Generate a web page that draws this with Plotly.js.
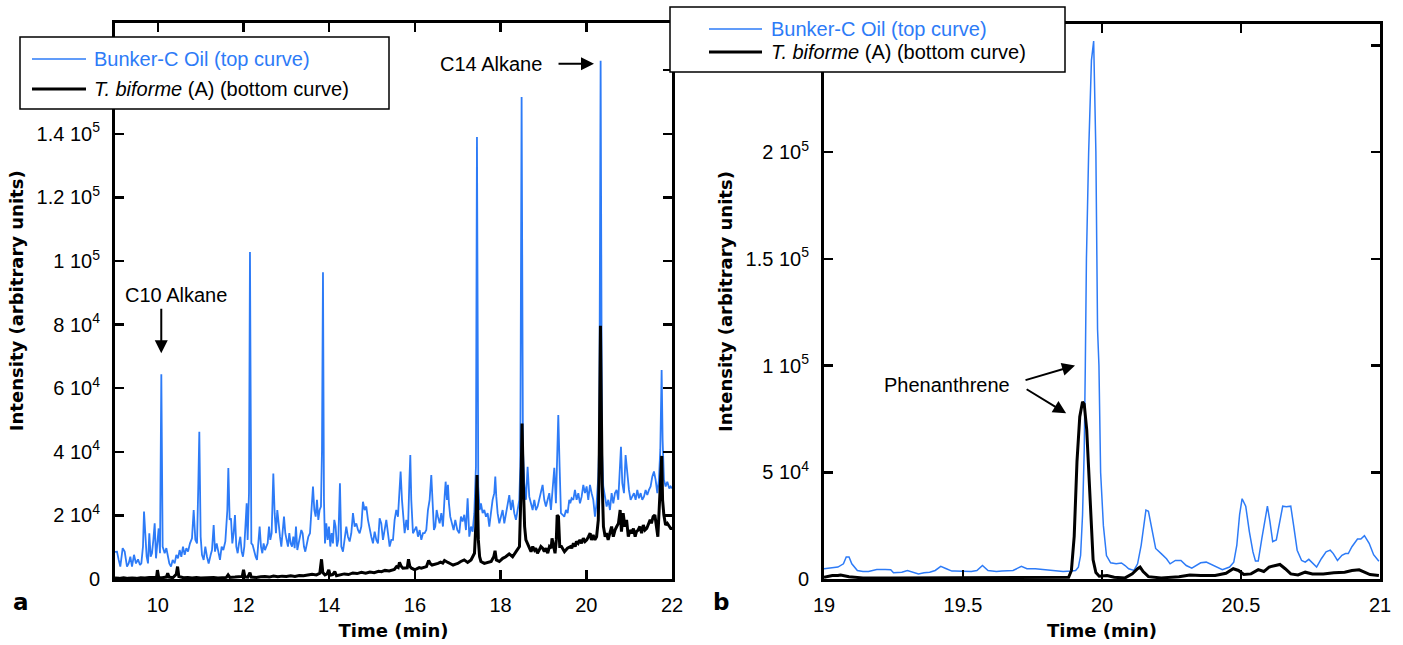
<!DOCTYPE html>
<html>
<head>
<meta charset="utf-8">
<script src="https://cdn.plot.ly/plotly-3.0.1.min.js"></script>
<style>
  html, body { margin: 0; padding: 0; background: #fff; }
  #chart { width: 1403px; height: 645px; }
</style>
</head>
<body>
<div id="chart"></div>
<script>
// ---------------- DATA (intensities in thousands of arbitrary units) ----------------
// Panel a : 9 - 22 min
const bunkerTimeA = [9.00,9.047,9.086,9.124,9.179,9.226,9.280,9.319,9.358,9.397,9.443,9.490,9.537,9.583,9.615,9.653,9.677,9.708,9.739,9.770,9.801,9.832,9.863,9.895,9.926,9.957,9.988,10.019,10.050,10.081,10.112,10.159,10.198,10.237,10.268,10.307,10.346,10.393,10.431,10.470,10.509,10.548,10.587,10.626,10.665,10.704,10.750,10.797,10.836,10.875,10.914,10.945,10.968,10.999,11.030,11.069,11.108,11.147,11.186,11.233,11.264,11.303,11.334,11.373,11.411,11.450,11.489,11.528,11.575,11.622,11.645,11.676,
11.707,11.738,11.769,11.800,11.831,11.863,11.894,11.925,11.956,11.987,12.018,12.049,12.073,12.096,12.127,12.150,12.182,12.213,12.252,12.283,12.314,12.345,12.376,12.407,12.438,12.469,12.500,12.531,12.563,12.594,12.625,12.656,12.695,12.726,12.757,12.788,12.819,12.851,12.882,12.913,12.944,12.975,13.006,13.037,13.068,13.099,13.131,13.162,13.193,13.224,13.255,13.286,13.317,13.348,13.379,13.410,13.441,13.473,13.512,13.551,13.590,13.621,13.652,13.683,13.714,13.745,13.776,13.807,13.831,13.854,13.877,13.901,13.932,13.963,13.994,14.025,14.056,14.087,14.118,14.149,14.180,14.212,14.250,
14.282,14.321,14.360,14.398,14.437,14.476,14.515,14.554,14.593,14.632,14.671,14.710,14.749,14.787,14.826,14.865,14.904,14.943,14.982,15.021,15.060,15.099,15.137,15.176,15.215,15.254,15.293,15.332,15.371,15.410,15.449,15.488,15.526,15.565,15.604,15.643,15.666,15.698,15.729,15.760,15.799,15.838,15.869,15.892,15.915,15.954,15.993,16.032,16.071,16.110,16.149,16.188,16.226,16.265,16.304,16.343,16.382,16.413,16.444,16.475,16.507,16.538,16.577,16.616,16.654,16.693,16.717,16.748,16.771,16.794,16.825,16.864,16.903,16.942,16.989,
17.035,17.074,17.113,17.152,17.191,17.230,17.269,17.308,17.347,17.386,17.424,17.448,17.479,17.510,17.541,17.580,17.619,17.658,17.697,17.736,17.774,17.813,17.852,17.876,17.899,17.930,17.969,18.008,18.047,18.086,18.124,18.163,18.202,18.241,18.280,18.319,18.358,18.397,18.436,18.459,18.490,18.521,18.552,18.591,18.630,18.669,18.708,18.747,18.786,18.825,18.864,18.903,18.941,18.980,19.019,19.058,19.097,19.136,19.175,19.214,19.253,19.291,19.330,19.346,19.377,19.408,19.447,19.486,19.525,19.564,19.602,19.626,
19.657,19.696,19.735,19.774,19.813,19.852,19.891,19.930,19.968,20.007,20.046,20.085,20.124,20.163,20.202,20.241,20.280,20.303,20.334,20.365,20.396,20.435,20.474,20.513,20.552,20.591,20.630,20.669,20.707,20.746,20.785,20.809,20.840,20.879,20.917,20.956,20.995,21.034,21.073,21.112,21.151,21.190,21.229,21.268,21.306,21.345,21.384,21.423,21.462,21.501,21.540,21.579,21.618,21.657,21.695,21.727,21.758,21.781,21.812,21.851,21.890,21.937,21.968,22.00];
const bunkerIntA = [8.5,8.6,6.0,3.9,9.7,8.6,3.9,4.9,7.0,3.9,7.6,4.9,6.2,4.4,4.9,10.2,21.2,13.3,7.0,4.9,14.4,7.0,8.1,12.3,17.5,6.5,11.2,15.9,8.1,64.4,10.2,8.1,9.7,7.0,4.9,3.9,6.0,4.9,7.6,6.5,9.1,7.0,10.2,7.6,9.7,8.6,11.2,12.8,21.7,12.3,11.2,30.0,46.3,13.3,7.6,6.0,10.2,7.0,4.9,7.6,9.1,17.0,8.6,11.2,8.1,6.0,10.2,9.1,11.8,21.7,34.9,18.6,
19.1,11.2,14.4,20.1,10.2,8.1,11.2,13.3,8.6,7.0,10.2,17.5,23.8,12.3,27.0,102.8,11.2,10.7,8.1,7.0,6.0,10.2,16.5,10.2,8.1,11.2,9.1,10.2,11.2,16.5,12.3,14.4,33.2,20.7,14.4,21.7,16.5,13.3,10.2,16.5,19.6,14.4,12.3,10.2,14.4,11.2,10.2,13.3,9.7,16.5,9.1,11.2,13.3,15.4,14.4,10.2,8.6,11.2,13.3,14.4,22.8,29.1,21.7,19.6,24.9,18.6,21.7,22.8,40.6,96.5,24.9,11.2,17.5,12.3,16.5,10.2,14.4,11.2,18.6,16.5,10.2,12.3,30.1,
10.2,8.6,12.3,16.5,13.3,11.8,14.4,20.7,16.5,17.5,15.4,14.4,16.5,24.3,21.7,22.8,18.6,15.4,13.3,11.2,14.9,12.3,11.2,19.1,17.5,12.3,15.4,18.6,14.4,10.2,12.3,12.3,18.6,21.7,19.6,27.0,33.8,24.9,18.6,14.4,18.6,15.4,30.1,39.0,24.9,14.4,15.4,16.5,13.3,15.4,12.3,14.4,14.4,15.4,21.7,24.9,32.7,24.9,15.4,16.5,21.7,19.6,17.5,20.7,16.5,25.9,30.6,24.9,29.6,23.8,19.6,17.5,15.4,18.6,15.4,
14.4,19.6,18.1,20.2,15.4,25.4,13.3,16.5,14.9,20.7,35.3,139.0,29.1,21.7,23.8,20.7,21.7,19.6,20.7,16.5,20.7,24.9,27.0,32.2,25.9,20.7,17.5,19.6,21.7,17.5,20.7,23.8,26.4,21.7,24.9,20.7,18.6,21.7,24.9,35.3,151.6,40.6,30.1,24.9,35.3,25.9,23.8,21.7,24.9,21.7,22.8,24.9,27.0,29.6,24.9,22.8,24.9,27.0,21.7,30.1,35.0,23.8,40.6,51.6,35.3,20.7,20.2,19.6,21.7,20.7,24.9,23.8,
25.4,24.9,28.0,24.9,27.0,23.8,25.9,29.6,27.0,29.1,24.9,29.6,27.0,24.9,19.6,23.8,32.2,43.7,163.0,40.6,29.1,25.9,22.8,24.9,21.7,27.0,23.8,27.0,28.0,24.9,36.4,41.6,30.1,27.0,39.0,33.2,28.0,24.9,25.9,27.0,24.9,28.0,25.4,27.0,24.9,25.9,28.0,26.4,28.0,29.1,32.2,33.8,31.2,27.0,31.2,40.6,65.7,43.7,31.2,29.1,30.6,28.5,29.1,28.5];

const biformeTimeA = [9.00,9.10,9.20,9.30,9.40,9.50,9.60,9.70,9.80,9.90,9.97,9.99,10.02,10.10,10.20,10.23,10.26,10.35,10.43,10.46,10.49,10.60,10.70,10.80,10.90,11.00,11.10,11.20,11.30,11.40,11.50,11.60,11.64,11.68,11.80,11.90,11.97,12.00,12.03,12.10,12.15,12.18,12.30,12.40,12.50,12.60,12.70,12.80,12.90,13.00,13.10,13.20,13.30,13.40,13.50,13.60,13.70,13.78,13.82,13.85,13.90,13.95,13.99,14.02,14.08,14.13,14.17,14.25,14.35,14.45,14.55,14.65,14.75,14.85,14.95,15.05,15.15,15.22,15.30,15.40,15.45,15.52,15.57,15.61,15.64,15.68,15.72,15.78,15.82,15.85,15.88,15.92,15.98,16.03,16.10,16.15,16.22,16.27,16.32,16.36,16.40,16.47,16.54,16.60,16.65,16.69,16.73,16.77,16.83,16.89,16.95,
17.00,17.07,17.15,17.23,17.31,17.39,17.42,17.45,17.48,17.51,17.54,17.62,17.70,17.78,17.84,17.87,17.90,17.97,18.05,18.12,18.20,18.28,18.36,18.44,18.47,18.50,18.53,18.56,18.59,18.63,18.67,18.71,18.75,18.79,18.82,18.86,18.90,18.94,18.98,19.02,19.06,19.10,19.14,19.18,19.20,19.23,19.27,19.30,19.32,19.35,19.38,19.42,19.49,19.56,19.63,
19.66,19.70,19.74,19.77,19.81,19.85,19.89,19.93,19.97,20.01,20.05,20.09,20.12,20.16,20.20,20.24,20.28,20.30,20.33,20.37,20.40,20.44,20.47,20.51,20.55,20.59,20.63,20.67,20.71,20.75,20.79,20.82,20.86,20.90,20.94,20.98,21.02,21.06,21.10,21.14,21.17,21.21,21.25,21.29,21.33,21.37,21.41,21.45,21.49,21.52,21.56,21.60,21.64,21.67,21.70,21.73,21.76,21.78,21.81,21.85,21.89,21.94,21.97,22.00];
const biformeIntA = [0.3,0.2,0.4,0.2,0.3,0.2,0.4,0.3,0.5,0.4,0.5,2.8,0.5,0.4,0.6,1.8,0.6,0.4,1.5,3.9,0.8,0.4,0.5,0.3,0.5,0.3,0.4,0.3,0.5,0.3,0.4,0.5,1.3,0.5,0.6,0.7,0.8,2.9,0.7,0.6,2.0,0.6,0.5,0.7,0.8,0.6,0.9,0.7,0.9,0.8,1.0,0.8,1.1,1.0,1.3,1.5,1.3,1.8,6.2,2.0,1.3,1.6,2.9,1.2,1.4,2.3,1.0,1.3,1.6,1.4,1.9,1.7,2.1,1.8,2.2,2.0,2.4,2.3,2.7,2.5,2.8,3.0,3.9,3.6,5.2,4.0,3.4,3.6,3.5,6.2,4.0,3.4,3.0,3.1,3.6,3.4,3.7,3.9,5.8,4.8,4.4,4.6,4.9,5.3,5.0,5.8,5.4,5.2,4.8,4.4,4.7,
4.9,5.5,6.0,5.2,6.0,8.1,16.5,32.7,12.3,7.0,5.5,4.9,5.2,5.5,7.0,8.9,6.0,5.5,6.5,7.0,7.9,7.0,8.6,10.2,24.9,48.9,30.1,16.5,12.3,11.2,9.7,8.6,10.2,9.1,9.7,8.1,9.1,10.2,9.7,8.6,9.7,8.1,10.2,9.7,12.8,10.2,8.1,12.3,20.1,19.6,10.2,10.2,8.6,9.7,10.2,
9.7,11.2,10.2,11.8,11.2,12.3,11.2,12.8,11.8,12.3,13.3,14.4,12.3,13.8,12.3,13.3,18.6,35.3,79.6,30.1,16.5,13.3,14.4,12.3,14.4,16.5,13.3,15.4,16.5,17.5,21.7,14.9,20.7,16.5,18.6,13.3,15.4,14.4,15.9,13.3,14.9,15.4,16.5,14.4,17.0,15.4,15.9,17.5,18.6,17.5,19.6,20.1,16.5,13.3,21.7,30.1,38.7,24.9,20.1,17.0,17.5,16.5,15.9,15.9];

// Panel b : 19 - 21 min
const bunkerTimeB = [19.00,19.02,19.05,19.07,19.08,19.09,19.10,19.12,19.14,19.16,19.19,19.22,19.24,19.25,19.28,19.30,19.32,19.34,19.36,19.38,19.40,19.42,19.44,19.46,19.47,19.50,19.53,19.55,19.57,19.59,19.62,19.64,19.68,19.71,19.73,19.76,19.79,19.81,19.84,19.86,19.89,19.905,19.915,19.923,19.930,19.936,19.940,19.944,19.952,19.962,19.970,19.978,19.984,19.989,19.995,20.005,20.016,20.031,20.051,20.070,20.083,20.096,20.115,20.128,20.141,20.152,20.158,20.167,20.180,20.193,20.213,20.232,20.245,20.264,20.284,20.303,20.323,20.342,20.355,20.375,20.394,20.413,20.433,20.459,20.474,20.485,20.495,20.504,20.517,20.530,20.543,20.552,20.562,20.575,20.588,20.595,20.604,20.614,20.627,20.640,20.650,20.663,20.679,20.689,20.702,20.718,20.731,20.744,20.759,20.772,20.789,20.806,20.821,20.832,20.847,20.863,20.876,20.886,20.899,20.919,20.931,20.944,20.961,20.977,20.996];
const bunkerIntB = [4.8,5.1,5.6,7.1,10.3,10.3,7.1,4.0,3.5,3.5,4.4,4.4,4.3,2.9,3.2,4.0,3.2,2.4,2.9,3.2,4.0,5.9,4.8,3.7,3.8,3.7,3.5,4.0,6.3,4.0,3.5,3.8,4.0,5.9,4.8,4.8,4.4,4.0,3.5,3.5,3.7,4.0,5.5,11,30,60,100,150,200,243,252,200,117,100,50,25,11,7.6,7.1,7.5,6.3,4.8,4.0,7.1,15.9,25.4,32.3,31.7,22.2,14.3,11.9,9.5,7.1,8.7,8.7,6.3,5.1,6.7,7.6,7.9,6.7,5.6,4.4,5.6,7.9,15.9,30.2,37.6,34.1,22.2,12.7,8.4,8.4,19.0,28.6,34.1,27.0,17.5,18.3,27.0,34.1,33.8,34.1,25.4,13.5,8.7,7.9,9.2,7.1,5.6,9.5,12.7,13.5,11.9,8.7,11.1,11.9,11.9,15.1,18.7,18.7,20.3,16.7,11.4,8.3];

const biformeTimeB = [19.00,19.03,19.05,19.06,19.09,19.14,19.24,19.37,19.50,19.63,19.76,19.86,19.88,19.89,19.90,19.91,19.92,19.93,19.936,19.945,19.952,19.960,19.968,19.978,19.99,20.018,20.044,20.083,20.109,20.128,20.137,20.148,20.167,20.213,20.277,20.316,20.355,20.407,20.446,20.472,20.491,20.510,20.536,20.562,20.582,20.601,20.627,20.640,20.659,20.679,20.705,20.731,20.757,20.796,20.834,20.873,20.899,20.925,20.944,20.964,20.996];
const biformeIntB = [0.8,1.6,1.6,1.9,1.1,0.5,0.5,0.5,0.8,0.5,0.5,0.8,0.8,4,20,55,76,83,82,70,50,25,9,3,1.3,1.6,0.8,0.5,2.4,4.8,5.6,3.5,1.1,0.5,1.1,1.9,1.6,1.6,2.7,4.8,4.0,2.1,2.4,4.4,3.5,5.6,6.3,6.8,4.8,2.4,1.9,3.2,2.4,2.4,2.9,3.2,4.0,4.3,3.2,2.1,1.6];

// Tick labels (the 1.6e5 and 2.5e5 labels are hidden behind the legends in the original)
const xTicksA = [10, 12, 14, 16, 18, 20, 22];
const yTicksA = [0, 20, 40, 60, 80, 100, 120, 140, 160];
const yLabelsA = ['0', '2 10<sup>4</sup>', '4 10<sup>4</sup>', '6 10<sup>4</sup>', '8 10<sup>4</sup>', '1 10<sup>5</sup>', '1.2 10<sup>5</sup>', '1.4 10<sup>5</sup>', ''];
const xTicksB = [19, 19.5, 20, 20.5, 21];
const xLabelsB = ['19', '19.5', '20', '20.5', '21'];
const yTicksB = [0, 50, 100, 150, 200, 250];
const yLabelsB = ['0', '5 10<sup>4</sup>', '1 10<sup>5</sup>', '1.5 10<sup>5</sup>', '2 10<sup>5</sup>', ''];

const seriesNames = ['Bunker-C Oil (top curve)', '<i>T. biforme</i> (A) (bottom curve)'];
const xTitle = 'Time (min)';
const yTitle = 'Intensity (arbitrary units)';

// ---------------- LAYOUT ----------------
const W = 1403, H = 645;
const px = v => v / W;
const py = v => 1 - v / H;
const BLUE = '#2d7bf7';
const TICKFONT = {family: 'Liberation Sans, Arial, sans-serif', size: 20, color: '#000'};
const TITLEFONT = {family: 'DejaVu Sans, sans-serif', size: 18, color: '#000'};

function xAxis(domain, range, tickvals, ticktext, anchor) {
  return {
    domain: domain, range: range, anchor: anchor,
    tickmode: 'array', tickvals: tickvals, ticktext: ticktext,
    ticks: 'inside', ticklen: 9, tickwidth: 2.5, tickcolor: '#000',
    showline: true, linewidth: 3, linecolor: '#000', mirror: 'ticks',
    showgrid: false, zeroline: false, tickfont: TICKFONT,
    ticklabelstandoff: 6,
    title: {text: '<b>' + xTitle + '</b>', font: TITLEFONT, standoff: 10}
  };
}
function yAxis(domain, range, tickvals, ticktext, anchor) {
  return {
    domain: domain, range: range, anchor: anchor,
    tickmode: 'array', tickvals: tickvals, ticktext: ticktext,
    ticks: 'inside', ticklen: 9, tickwidth: 2.5, tickcolor: '#000',
    showline: true, linewidth: 3, linecolor: '#000', mirror: 'ticks',
    showgrid: false, zeroline: false, tickfont: TICKFONT,
    ticklabelstandoff: 8,
    title: {text: '<b>' + yTitle + '</b>', font: TITLEFONT, standoff: 9}
  };
}

const traces = [
  {x: bunkerTimeA, y: bunkerIntA, xaxis: 'x', yaxis: 'y', mode: 'lines', name: seriesNames[0], line: {color: BLUE, width: 1.8}, showlegend: false},
  {x: biformeTimeA, y: biformeIntA, xaxis: 'x', yaxis: 'y', mode: 'lines', name: seriesNames[1], line: {color: '#000', width: 3}, showlegend: false},
  {x: bunkerTimeB, y: bunkerIntB, xaxis: 'x2', yaxis: 'y2', mode: 'lines', name: seriesNames[0], line: {color: BLUE, width: 1.5}, showlegend: false},
  {x: biformeTimeB, y: biformeIntB, xaxis: 'x2', yaxis: 'y2', mode: 'lines', name: seriesNames[1], line: {color: '#000', width: 3}, showlegend: false}
];

const legendBoxes = [
  {x0: 20, x1: 389, y0: 37, y1: 109, l0: 32, l1: 86, ly: [59, 89], tx: 92},
  {x0: 670, x1: 1065, y0: 7, y1: 72, l0: 709, l1: 762, ly: [29, 52], tx: 769}
];
const shapes = [];
const annotations = [];
legendBoxes.forEach(b => {
  shapes.push({type: 'rect', xref: 'paper', yref: 'paper', x0: px(b.x0), x1: px(b.x1), y0: py(b.y1), y1: py(b.y0),
    line: {color: '#000', width: 1.5}, fillcolor: '#fff', layer: 'above'});
  shapes.push({type: 'line', xref: 'paper', yref: 'paper', x0: px(b.l0), x1: px(b.l1), y0: py(b.ly[0]), y1: py(b.ly[0]),
    line: {color: BLUE, width: 1.5}, layer: 'above'});
  shapes.push({type: 'line', xref: 'paper', yref: 'paper', x0: px(b.l0), x1: px(b.l1), y0: py(b.ly[1]), y1: py(b.ly[1]),
    line: {color: '#000', width: 3}, layer: 'above'});
  annotations.push({xref: 'paper', yref: 'paper', x: px(b.tx), y: py(b.ly[0]), xanchor: 'left', yanchor: 'middle',
    text: seriesNames[0], showarrow: false, font: {family: TICKFONT.family, size: 20, color: BLUE}});
  annotations.push({xref: 'paper', yref: 'paper', x: px(b.tx), y: py(b.ly[1]), xanchor: 'left', yanchor: 'middle',
    text: seriesNames[1], showarrow: false, font: {family: TICKFONT.family, size: 20, color: '#000'}});
});

const ARROW = {showarrow: true, arrowhead: 2, arrowsize: 1.3, arrowwidth: 2, arrowcolor: '#000', text: ''};
const label = (x, y, text, font) => ({xref: 'paper', yref: 'paper', x: px(x), y: py(y), xanchor: 'center', yanchor: 'middle',
  text: text, showarrow: false, font: font || TICKFONT});
// peak labels
annotations.push(label(176, 295, 'C10 Alkane'));
annotations.push(Object.assign({xref: 'x', yref: 'y', x: 10.08, y: 71, ax: 0, ay: -46}, ARROW));
annotations.push(label(491, 64, 'C14 Alkane'));
annotations.push(Object.assign({xref: 'x', yref: 'y', x: 20.18, y: 162, ax: -37, ay: 0}, ARROW));
annotations.push(label(947, 385, 'Phenanthrene'));
annotations.push(Object.assign({xref: 'x2', yref: 'y2', x: 19.903, y: 100, ax: -51, ay: 15}, ARROW));
annotations.push(Object.assign({xref: 'x2', yref: 'y2', x: 19.871, y: 77.6, ax: -41, ay: -25}, ARROW));
// panel letters
const LETTERFONT = {family: 'DejaVu Sans, sans-serif', size: 23, color: '#000'};
annotations.push(label(21, 602, '<b>a</b>', LETTERFONT));
annotations.push(label(721, 602, '<b>b</b>', LETTERFONT));

const layout = {
  width: W, height: H,
  margin: {l: 0, r: 0, t: 0, b: 0},
  paper_bgcolor: '#fff', plot_bgcolor: '#fff',
  font: TICKFONT,
  showlegend: false,
  xaxis: xAxis([px(115), px(672)], [9, 22], xTicksA, xTicksA.map(String), 'y'),
  yaxis: yAxis([py(579), py(22.5)], [0, 175], yTicksA, yLabelsA, 'x'),
  xaxis2: xAxis([px(824), px(1380)], [19, 21], xTicksB, xLabelsB, 'y2'),
  yaxis2: yAxis([py(579), py(24)], [0, 260], yTicksB, yLabelsB, 'x2'),
  shapes: shapes,
  annotations: annotations
};

Plotly.newPlot('chart', traces, layout, {displayModeBar: false, staticPlot: true});
</script>
</body>
</html>
